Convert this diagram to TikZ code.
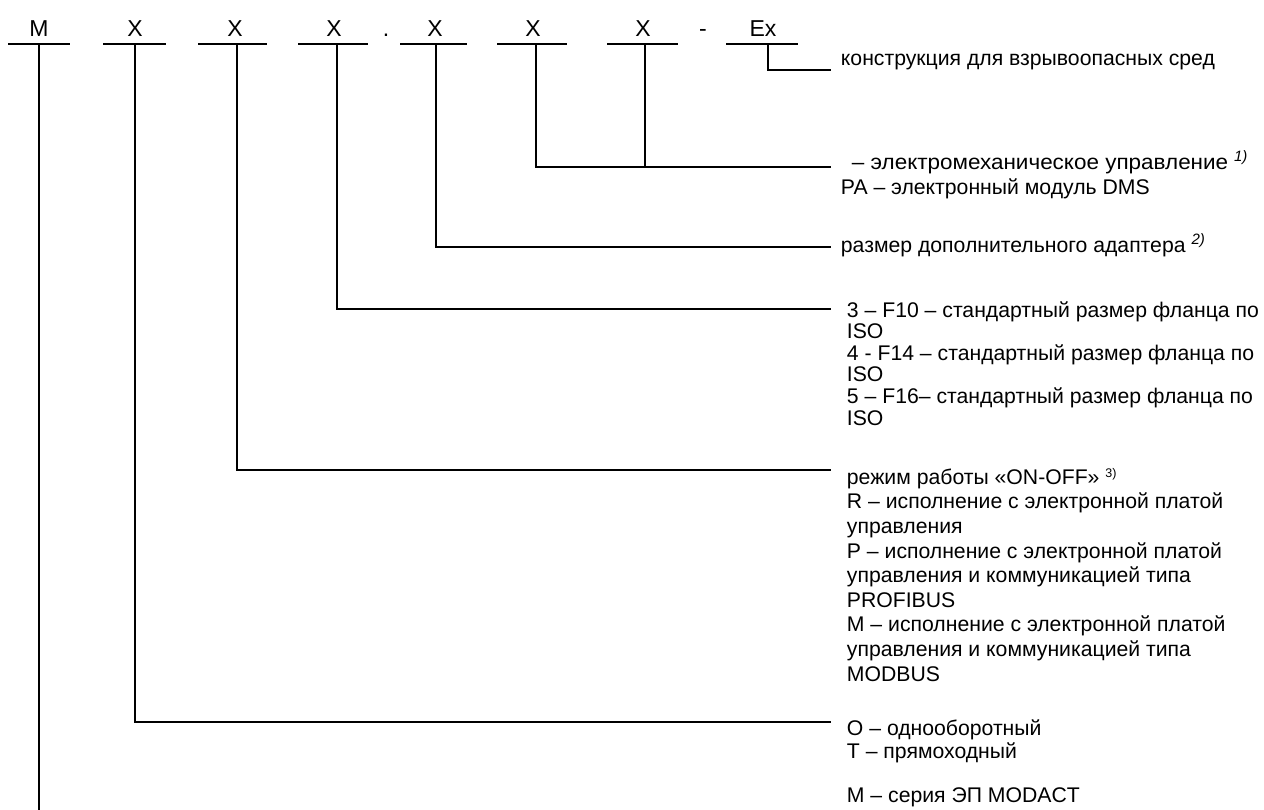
\documentclass[tikz,border=0pt]{standalone}
\usepackage{graphicx}
\usepackage{fontspec}
\setmainfont{Liberation Sans}
\newcommand{\fnmark}[1]{\raisebox{8pt}{\fontsize{15}{15}\selectfont\itshape #1}}
\begin{document}
\begin{tikzpicture}[x=1pt,y=-1pt,line width=1.9pt,
  code/.style={font=\fontsize{23}{27}\selectfont, anchor=base, inner sep=0pt},
  desc/.style={font=\fontsize{21.2}{25}\selectfont, anchor=base west, align=left, inner sep=0pt},
  lead/.style={line width=1.9pt}]
\useasboundingbox (0,0) rectangle (1264,810);
% code letters
\node[code] (cM) at (39,37) {M};
\node[code] (c1) at (135,37) {X};
\node[code] (c2) at (235,37) {X};
\node[code] (c3) at (334,37) {X};
\node[code] (dot) at (386,37) {.};
\node[code] (c4) at (435,37) {X};
\node[code] (c5) at (533,37) {X};
\node[code] (c6) at (643,37) {X};
\node[code] (dash) at (703,37) {-};
\node[code] (cEx) at (763,37) {Ex};
% underlines
\coordinate (uM1) at (8,44);   \coordinate (uM2) at (70,44);
\coordinate (u11) at (103,44); \coordinate (u12) at (166,44);
\coordinate (u21) at (198,44); \coordinate (u22) at (267,44);
\coordinate (u31) at (298,44); \coordinate (u32) at (368,44);
\coordinate (u41) at (400,44); \coordinate (u42) at (467,44);
\coordinate (u51) at (497,44); \coordinate (u52) at (567,44);
\coordinate (u61) at (607,44); \coordinate (u62) at (678,44);
\coordinate (uE1) at (726,44); \coordinate (uE2) at (798,44);
\foreach \a/\b in {uM1/uM2,u11/u12,u21/u22,u31/u32,u41/u42,u51/u52,u61/u62,uE1/uE2}
  \draw[lead] (\a) -- (\b);
% description texts (anchor = baseline of the last line)
\node[desc] (t0) at (840,66) {конструкция для взрывоопасных сред};
\node[desc] (t1) at (840,195) {\hspace{11pt}\scalebox{1.06}[1]{– электромеханическое управление} \fnmark{1)}\\PA – электронный модуль DMS};
\node[desc] (t2) at (840,253) {размер дополнительного адаптера \fnmark{2)}};
\node[desc, font=\fontsize{21.2}{21.6}\selectfont] (t3) at (846,425) {3 – F10 – стандартный размер фланца по\\ISO\\4 - F14 – стандартный размер фланца по\\ISO\\5 – F16– стандартный размер фланца по\\ISO};
\node[desc, font=\fontsize{21.2}{24.6}\selectfont] (t4) at (846,681) {режим работы «ON-OFF» \raisebox{7pt}{\fontsize{12.5}{12.5}\selectfont 3)}\\R – исполнение с электронной платой\\управления\\P – исполнение с электронной платой\\управления и коммуникацией типа\\PROFIBUS\\M – исполнение с электронной платой\\управления и коммуникацией типа\\MODBUS};
\node[desc, font=\fontsize{21.2}{23}\selectfont] (t5) at (846,758) {O – однооборотный\\T – прямоходный};
\node[desc] (t6) at (846,802) {M – серия ЭП MODACT};
% leaders
\coordinate (eE) at (831,70);
\coordinate (e56) at (831,167);
\coordinate (e4) at (831,247);
\coordinate (e3) at (831,309);
\coordinate (e2) at (831,470);
\coordinate (e1) at (831,722);
\coordinate (eM) at (39,810);
\draw[lead] (768,44) |- (eE);
\draw[lead] (645,44) -- (645,167);
\draw[lead] (536,44) |- (e56);
\draw[lead] (436,44) |- (e4);
\draw[lead] (337,44) |- (e3);
\draw[lead] (237,44) |- (e2);
\draw[lead] (135,44) |- (e1);
\draw[lead] (39,44) -- (eM);
\end{tikzpicture}
\end{document}
